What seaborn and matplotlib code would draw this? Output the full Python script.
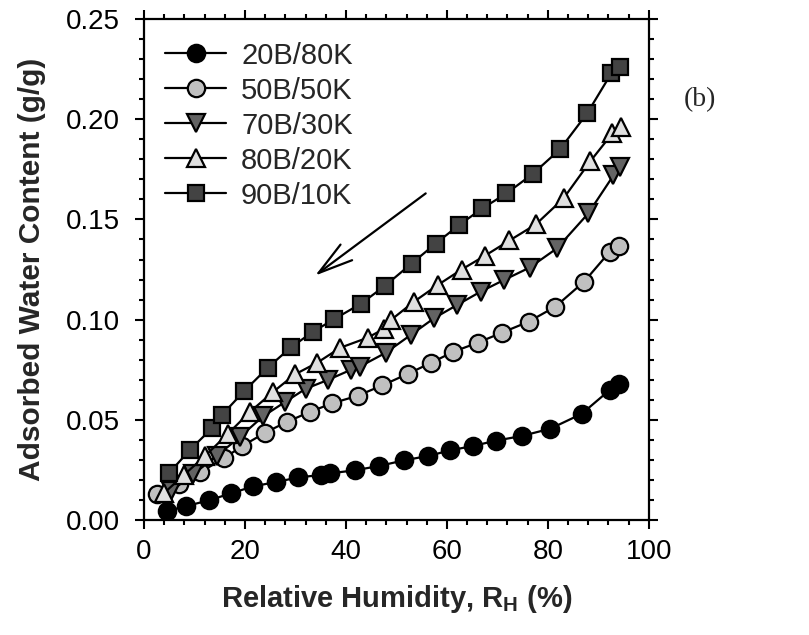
import matplotlib
matplotlib.use("Agg")
import matplotlib.pyplot as plt
import pandas as pd
import seaborn as sns
from matplotlib.ticker import MultipleLocator, FormatStrFormatter

# Desorption isotherms: relative humidity (%) vs adsorbed water content (g/g)
blends = ["20B/80K", "50B/50K", "70B/30K", "80B/20K", "90B/10K"]

rh_20b = [4.5, 8.4, 12.8, 17.2, 21.6, 26.2, 30.6, 35.1, 36.8, 41.7, 46.6, 51.5, 56.3, 60.7, 65.2, 69.7, 74.9, 80.5, 86.7, 92.3, 94.1]
wc_20b = [0.0045, 0.0070, 0.0098, 0.0133, 0.0168, 0.0190, 0.0213, 0.0225, 0.0233, 0.0248, 0.0270, 0.0298, 0.0320, 0.0348, 0.0370, 0.0396, 0.0420, 0.0456, 0.0530, 0.0650, 0.0680]

rh_50b = [2.6, 7.0, 11.1, 15.8, 19.5, 24.0, 28.3, 32.9, 37.3, 42.3, 47.2, 52.2, 56.9, 61.3, 66.1, 70.9, 76.2, 81.5, 87.2, 92.3, 94.1]
wc_50b = [0.0130, 0.0178, 0.0238, 0.0308, 0.0370, 0.0436, 0.0490, 0.0540, 0.0583, 0.0620, 0.0672, 0.0729, 0.0785, 0.0840, 0.0885, 0.0935, 0.0990, 0.1065, 0.1190, 0.1340, 0.1367]

rh_70b = [5.4, 9.8, 14.4, 19.0, 23.6, 28.0, 32.0, 36.5, 41.0, 42.7, 47.9, 52.8, 57.5, 62.0, 66.7, 71.3, 76.4, 81.8, 88.0, 93.0, 94.3]
wc_70b = [0.0145, 0.0230, 0.0320, 0.0415, 0.0518, 0.0590, 0.0655, 0.0700, 0.0750, 0.0765, 0.0835, 0.0923, 0.1008, 0.1073, 0.1140, 0.1198, 0.1260, 0.1356, 0.1530, 0.1720, 0.1760]

rh_80b = [3.9, 7.9, 12.1, 16.6, 21.0, 25.6, 29.9, 34.3, 38.9, 44.3, 47.6, 48.9, 53.5, 58.2, 62.9, 67.6, 72.4, 77.6, 83.1, 88.4, 92.8, 94.4]
wc_80b = [0.0133, 0.0225, 0.0320, 0.0430, 0.0540, 0.0640, 0.0727, 0.0785, 0.0860, 0.0910, 0.0955, 0.0998, 0.1090, 0.1173, 0.1250, 0.1320, 0.1395, 0.1475, 0.1605, 0.1790, 0.1930, 0.1960]

rh_90b = [4.9, 9.1, 13.4, 15.4, 19.9, 24.5, 29.1, 33.5, 37.7, 43.0, 47.8, 53.0, 57.8, 62.3, 67.0, 71.8, 77.0, 82.4, 87.8, 92.6, 94.3]
wc_90b = [0.0233, 0.0350, 0.0457, 0.0524, 0.0645, 0.0760, 0.0862, 0.0940, 0.1003, 0.1080, 0.1170, 0.1280, 0.1380, 0.1470, 0.1555, 0.1630, 0.1727, 0.1850, 0.2030, 0.2230, 0.2260]

rh_series = [rh_20b, rh_50b, rh_70b, rh_80b, rh_90b]
wc_series = [wc_20b, wc_50b, wc_70b, wc_80b, wc_90b]

markers = ["o", "o", "v", "^", "s"]
face_colors = ["#000000", "#c0c0c0", "#636363", "#e0e0e0", "#434343"]
marker_sizes = [12.5, 12.5, 12.5, 12.5, 11.5]

# direction of the desorption run (high RH -> low RH)
arrow_start = (55.8, 0.163)
arrow_end = (33.9, 0.122)

frames = [pd.DataFrame({"rh": x, "wc": y, "blend": name})
          for name, x, y in zip(blends, rh_series, wc_series)]
df = pd.concat(frames, ignore_index=True)

sns.set_theme(style="ticks")
plt.rcParams["font.family"] = ["Liberation Sans", "DejaVu Sans"]
plt.rcParams["mathtext.fontset"] = "custom"
plt.rcParams["mathtext.rm"] = "Liberation Sans"
plt.rcParams["mathtext.bf"] = "Liberation Sans:bold"

fig = plt.figure(figsize=(8.09, 6.35), dpi=100)
ax = fig.add_axes([0.178, 0.181, 0.624, 0.789])

for name, mk, fc, ms in zip(blends, markers, face_colors, marker_sizes):
    sub = df[df["blend"] == name]
    sns.lineplot(data=sub, x="rh", y="wc", ax=ax, estimator=None, sort=False,
                 color="black", linewidth=1.6, marker=mk, markersize=ms,
                 markerfacecolor=fc, markeredgecolor="black",
                 markeredgewidth=1.6, label=name)

ax.annotate("", xy=arrow_end, xytext=arrow_start,
            arrowprops=dict(arrowstyle="->,head_length=1.25,head_width=0.35",
                            lw=1.6, color="black", mutation_scale=20,
                            shrinkA=0, shrinkB=0))

ax.set_xlim(0, 100)
ax.set_ylim(0, 0.25)
ax.xaxis.set_major_locator(MultipleLocator(20))
ax.xaxis.set_minor_locator(MultipleLocator(4))
ax.yaxis.set_major_locator(MultipleLocator(0.05))
ax.yaxis.set_minor_locator(MultipleLocator(0.01))
ax.yaxis.set_major_formatter(FormatStrFormatter("%.2f"))

for sp in ax.spines.values():
    sp.set_visible(True)
    sp.set_linewidth(1.6)
    sp.set_color("black")

ax.tick_params(which="both", direction="out", top=True, right=True,
               width=1.5, color="black")
ax.tick_params(which="major", length=6.5, labelsize=20, labelcolor="black")
ax.tick_params(which="minor", length=3.5)
ax.tick_params(axis="x", which="major", pad=7)
ax.tick_params(axis="y", which="major", pad=11)

ax.set_xlabel(r"Relative Humidity, R$_{\mathbf{H}}$ (%)", fontsize=21,
              fontweight="bold", labelpad=13)
ax.set_ylabel("Adsorbed Water Content (g/g)", fontsize=21.5,
              fontweight="bold", labelpad=14)

ax.legend(loc="upper left", bbox_to_anchor=(0.042, 0.955), frameon=False,
          fontsize=21, handlelength=2.1, handletextpad=0.5,
          labelspacing=0.24, borderpad=0, borderaxespad=0, numpoints=1)

fig.text(0.865, 0.843, "(b)", family=["Liberation Serif", "DejaVu Serif"],
         fontsize=20, ha="center", va="center")

fig.savefig("out.png", dpi=100, facecolor="white")
